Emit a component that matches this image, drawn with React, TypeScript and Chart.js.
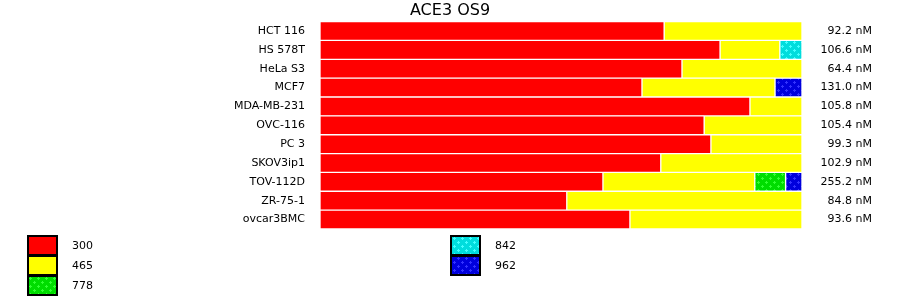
import React, { useEffect, useRef } from "react";
import { Chart, registerables } from "chart.js";

Chart.register(...registerables);

const cellLines = [
  "HCT 116",
  "HS 578T",
  "HeLa S3",
  "MCF7",
  "MDA-MB-231",
  "OVC-116",
  "PC 3",
  "SKOV3ip1",
  "TOV-112D",
  "ZR-75-1",
  "ovcar3BMC",
];

const concLabels = [
  "92.2 nM",
  "106.6 nM",
  "64.4 nM",
  "131.0 nM",
  "105.8 nM",
  "105.4 nM",
  "99.3 nM",
  "102.9 nM",
  "255.2 nM",
  "84.8 nM",
  "93.6 nM",
];

const seriesNames = ["300", "465", "778", "842", "962"];

// percentage share of each series per cell line
const s300 = [71.4, 83.0, 75.1, 66.8, 89.2, 79.7, 81.1, 70.7, 58.7, 51.2, 64.3];
const s465 = [28.6, 12.4, 24.9, 27.6, 10.8, 20.3, 18.9, 29.3, 31.5, 48.8, 35.7];
const s778 = [null, null, null, null, null, null, null, null, 6.4, null, null];
const s842 = [null, 4.6, null, null, null, null, null, null, null, null, null];
const s962 = [null, null, null, 5.6, null, null, null, null, 3.4, null, null];

const seriesData = [s300, s465, s778, s842, s962];

function makePattern(base: string, dot: string): CanvasPattern | string {
  const c = document.createElement("canvas");
  c.width = 8;
  c.height = 8;
  const g = c.getContext("2d");
  if (!g) return base;
  g.fillStyle = base;
  g.fillRect(0, 0, 8, 8);
  g.fillStyle = dot;
  const plus = (cx: number, cy: number) => {
    g.fillRect(cx - 1, cy, 3, 1);
    g.fillRect(cx, cy - 1, 1, 3);
  };
  plus(2, 2);
  plus(6, 6);
  g.fillRect(1, 1, 3, 3);
  g.fillRect(5, 5, 3, 3);
  g.fillStyle = base;
  [[1, 1], [3, 1], [1, 3], [3, 3], [5, 5], [7, 5], [5, 7], [7, 7]].forEach(([x, y]) =>
    g.fillRect(x, y, 1, 1)
  );
  const p = g.createPattern(c, "repeat");
  return p || base;
}

const legendPlugin = {
  id: "boxLegend",
  afterDraw(chart: any) {
    const ctx = chart.ctx as CanvasRenderingContext2D;
    const colX = [27, 450];
    const textX = [72, 495];
    ctx.save();
    chart.data.datasets.forEach((ds: any, i: number) => {
      const col = Math.floor(i / 3);
      const row = i % 3;
      const x = colX[col];
      const y = 235 + row * 20;
      ctx.fillStyle = "#000";
      ctx.fillRect(x, y, 31, 21);
      ctx.fillStyle = ds.backgroundColor;
      ctx.fillRect(x + 2, y + 2, 27, 17);
      ctx.fillStyle = "#000";
      ctx.font = "11px 'DejaVu Sans'";
      ctx.textAlign = "left";
      ctx.textBaseline = "middle";
      ctx.fillText(ds.label, textX[col], y + 11.5);
    });
    ctx.restore();
  },
};

export default function App() {
  const ref = useRef<HTMLCanvasElement>(null);

  useEffect(() => {
    if (!ref.current) return;
    const colors = [
      "#ff0000",
      "#ffff00",
      makePattern("#00dd00", "#33ff33"),
      makePattern("#00dddd", "#44ffff"),
      makePattern("#0000dd", "#3333ff"),
    ];
    const chart = new Chart(ref.current, {
      type: "bar",
      data: {
        labels: cellLines,
        datasets: seriesNames.map((name, i) => ({
          label: name,
          data: seriesData[i] as any,
          backgroundColor: colors[i] as any,
          borderColor: "#ffffff",
          borderWidth: 1,
          borderSkipped: false,
          barPercentage: 1,
          categoryPercentage: 1,
        })),
      },
      options: {
        indexAxis: "y",
        responsive: false,
        animation: false,
        devicePixelRatio: 1,
        layout: { padding: { left: 28, right: 28, top: 0, bottom: 70 } },
        plugins: {
          legend: { display: false },
          tooltip: { enabled: false },
          title: {
            display: true,
            text: "ACE3 OS9",
            color: "#000",
            font: { family: "DejaVu Sans", size: 16, weight: "normal" },
            padding: { top: 0, bottom: 0.8 },
          },
        },
        scales: {
          x: {
            stacked: true,
            display: false,
            min: 0,
            max: 100,
          },
          y: {
            stacked: true,
            position: "left",
            grid: { display: false, drawTicks: false },
            border: { display: false },
            ticks: {
              autoSkip: false,
              padding: 15,
              color: "#000",
              font: { family: "DejaVu Sans", size: 11 },
            },
            afterFit: (s: any) => {
              s.width = 292;
            },
          },
          y2: {
            type: "category",
            position: "right",
            labels: concLabels,
            offset: true,
            grid: { display: false, drawTicks: false },
            border: { display: false },
            ticks: {
              autoSkip: false,
              padding: 0,
              crossAlign: "far",
              color: "#000",
              font: { family: "DejaVu Sans", size: 11 },
            },
            afterFit: (s: any) => {
              s.width = 70;
            },
          },
        },
      } as any,
      plugins: [legendPlugin],
    });
    return () => chart.destroy();
  }, []);

  return (
    <canvas
      ref={ref}
      width={900}
      height={299}
      style={{ position: "absolute", left: 0, top: 0, width: 900, height: 299 }}
    />
  );
}
